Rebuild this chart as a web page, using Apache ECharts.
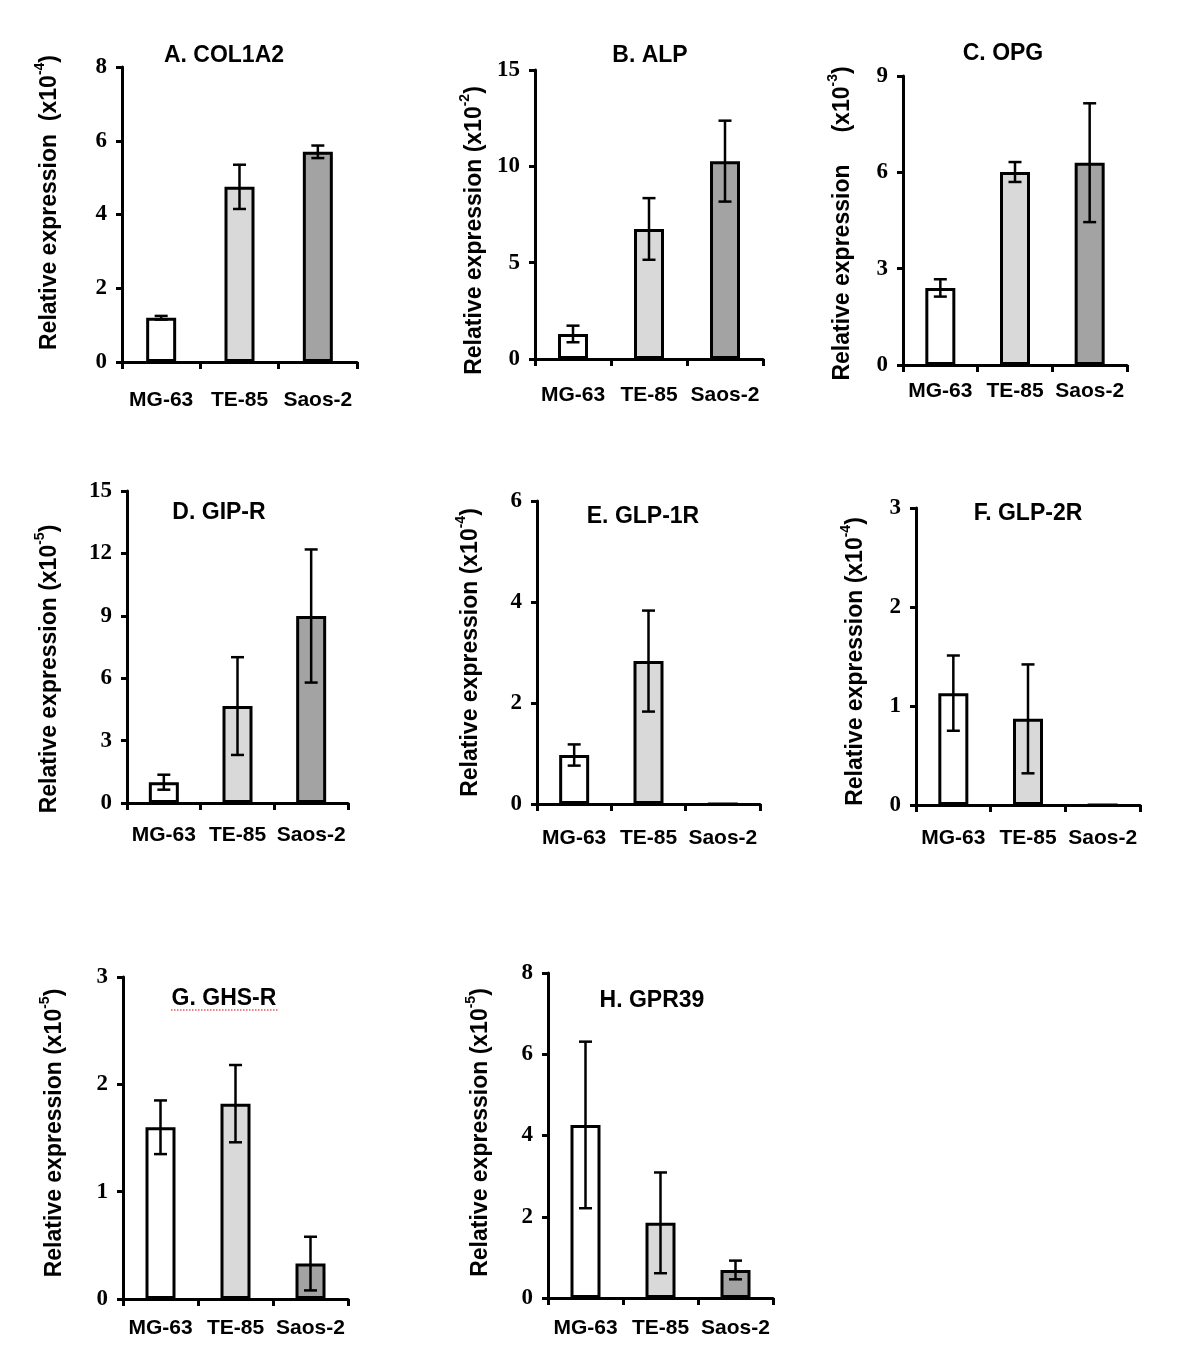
<!DOCTYPE html>
<html lang="en">
<head>
    <meta charset="UTF-8">
    <title>Relative expression</title>
    <script src="https://cdn.jsdelivr.net/npm/echarts@6/dist/echarts.min.js"></script>
    <style>
        * { padding: 0; margin: 0; }
        body { background: #fff; }
        #main { width: 1200px; height: 1368px; }
    </style>
</head>
<body>
    <div id="main"></div>
    <script>
        // cell lines on the x axis
        var cellLines = ['MG-63', 'TE-85', 'Saos-2'];
        var barColors = ['#ffffff', '#d9d9d9', '#a3a3a3'];

        // panel titles, y exponents, y max and tick step
        var panelTitles = ['A. COL1A2', 'B. ALP', 'C. OPG', 'D. GIP-R', 'E. GLP-1R', 'F. GLP-2R', 'G. GHS-R', 'H. GPR39'];
        var exponents = ['-4', '-2', '-3', '-5', '-4', '-4', '-5', '-5'];
        var yMax = [8, 15, 9, 15, 6, 3, 3, 8];
        var yStep = [2, 5, 3, 3, 2, 1, 1, 2];

        // mean and error for each panel (MG-63, TE-85, Saos-2)
        var col1a2 = [1.2, 4.75, 5.7];
        var col1a2Err = [0.05, 0.6, 0.17];
        var alp = [1.3, 6.75, 10.27];
        var alpErr = [0.43, 1.6, 2.1];
        var opg = [2.4, 6.01, 6.3];
        var opgErr = [0.27, 0.31, 1.85];
        var gipr = [1.0, 4.66, 8.99];
        var giprErr = [0.36, 2.35, 3.2];
        var glp1r = [0.97, 2.83, 0];
        var glp1rErr = [0.21, 1.0, 0];
        var glp2r = [1.13, 0.87, 0];
        var glp2rErr = [0.38, 0.55, 0];
        var ghsr = [1.6, 1.82, 0.33];
        var ghsrErr = [0.25, 0.36, 0.25];
        var gpr39 = [4.26, 1.85, 0.69];
        var gpr39Err = [2.05, 1.24, 0.23];

        var means = [col1a2, alp, opg, gipr, glp1r, glp2r, ghsr, gpr39];
        var errs = [col1a2Err, alpErr, opgErr, giprErr, glp1rErr, glp2rErr, ghsrErr, gpr39Err];

        // layout of each panel: grid box, y title gap + shift, x label margin, title centre
        var boxes = [
            { left: 122, top: 67, width: 235, height: 295, gap: 61, pad: [0, 0, 0, 24], lm: 28, tx: 224, ty: 56, sp: '  ' },
            { left: 535, top: 70, width: 228, height: 289, gap: 49, pad: [0, 32, 0, 0], lm: 26, tx: 650, ty: 56, sp: ' ' },
            { left: 903, top: 76, width: 224, height: 289, gap: 49, pad: [0, 6, 0, 0], lm: 16, tx: 1003, ty: 54, sp: '     ' },
            { left: 127, top: 491, width: 221, height: 312, gap: 66, pad: [0, 44, 0, 0], lm: 22, tx: 219, ty: 513, sp: ' ' },
            { left: 537, top: 501, width: 223, height: 303, gap: 55, pad: [0, 0, 0, 0], lm: 24, tx: 643, ty: 517, sp: ' ' },
            { left: 916, top: 508, width: 224, height: 297, gap: 49, pad: [0, 10, 0, 0], lm: 23, tx: 1028, ty: 514, sp: ' ' },
            { left: 123, top: 977, width: 225, height: 322, gap: 57, pad: [0, 0, 0, 10], lm: 19, tx: 224, ty: 999, sp: ' ' },
            { left: 548, top: 973, width: 225, height: 325, gap: 56, pad: [0, 0, 0, 6], lm: 20, tx: 652, ty: 1001, sp: ' ' }
        ];

        var sans = 'Liberation Sans';
        var serif = 'Liberation Serif';

        var grids = [], xAxes = [], yAxes = [], series = [], graphics = [];

        for (var i = 0; i < boxes.length; i++) {
            var b = boxes[i];
            grids.push({ left: b.left, top: b.top, width: b.width, height: b.height });

            xAxes.push({
                type: 'category',
                gridIndex: i,
                data: cellLines,
                axisLine: { lineStyle: { color: '#000', width: 3 } },
                axisTick: { show: true, length: 7, lineStyle: { color: '#000', width: 3 } },
                axisLabel: {
                    margin: b.lm, color: '#000', fontSize: 21, fontWeight: 'bold', fontFamily: sans,
                    interval: 0
                }
            });

            yAxes.push({
                type: 'value',
                gridIndex: i,
                min: 0,
                max: yMax[i],
                interval: yStep[i],
                splitLine: { show: false },
                axisLine: { show: true, lineStyle: { color: '#000', width: 3 } },
                axisTick: { show: true, length: 6, lineStyle: { color: '#000', width: 3 } },
                axisLabel: { margin: 15, color: '#000', fontSize: 23, fontWeight: 'bold', fontFamily: serif },
                name: '{t|Relative expression' + b.sp + '(x10}{s|' + exponents[i] + '}{t|)}',
                nameLocation: 'middle',
                nameRotate: 90,
                nameGap: b.gap,
                nameTextStyle: {
                    padding: b.pad,
                    rich: {
                        t: { fontSize: 23, fontWeight: 'bold', fontFamily: sans, color: '#000', lineHeight: 28, verticalAlign: 'bottom' },
                        s: { fontSize: 14, fontWeight: 'bold', fontFamily: sans, color: '#000', lineHeight: 28, verticalAlign: 'top' }
                    }
                }
            });

            var barData = [];
            var errData = [];
            for (var k = 0; k < cellLines.length; k++) {
                barData.push({ value: means[i][k], itemStyle: { color: barColors[k] } });
                if (errs[i][k] > 0) {
                    errData.push([k, means[i][k] - errs[i][k], means[i][k] + errs[i][k]]);
                }
            }

            series.push({
                type: 'bar',
                xAxisIndex: i,
                yAxisIndex: i,
                data: barData,
                barWidth: 30,
                itemStyle: { borderColor: '#000', borderWidth: 3 },
                silent: true
            });

            series.push({
                type: 'custom',
                xAxisIndex: i,
                yAxisIndex: i,
                data: errData,
                z: 5,
                silent: true,
                renderItem: function (params, api) {
                    var lo = api.coord([api.value(0), api.value(1)]);
                    var hi = api.coord([api.value(0), api.value(2)]);
                    var cap = 6.5;
                    var st = { stroke: '#000', lineWidth: 2.5 };
                    return {
                        type: 'group',
                        children: [
                            { type: 'line', shape: { x1: lo[0], y1: lo[1], x2: hi[0], y2: hi[1] }, style: st },
                            { type: 'line', shape: { x1: hi[0] - cap, y1: hi[1], x2: hi[0] + cap, y2: hi[1] }, style: st },
                            { type: 'line', shape: { x1: lo[0] - cap, y1: lo[1], x2: lo[0] + cap, y2: lo[1] }, style: st }
                        ]
                    };
                }
            });

            graphics.push({
                type: 'text',
                x: b.tx,
                y: b.ty,
                style: {
                    text: panelTitles[i],
                    fontSize: 23,
                    fontWeight: 'bold',
                    fontFamily: sans,
                    fill: '#000',
                    align: 'center',
                    verticalAlign: 'middle'
                }
            });
        }

        // the red dotted underline seen under panel G's title
        graphics.push({
            type: 'line',
            shape: { x1: 171, y1: 1010, x2: 278, y2: 1010 },
            style: { stroke: '#e05a5a', lineWidth: 1.5, lineDash: [1.5, 1.5] }
        });

        var chart = echarts.init(document.getElementById('main'));
        chart.setOption({
            backgroundColor: '#fff',
            animation: false,
            grid: grids,
            xAxis: xAxes,
            yAxis: yAxes,
            series: series,
            graphic: graphics
        });
    </script>
</body>
</html>
